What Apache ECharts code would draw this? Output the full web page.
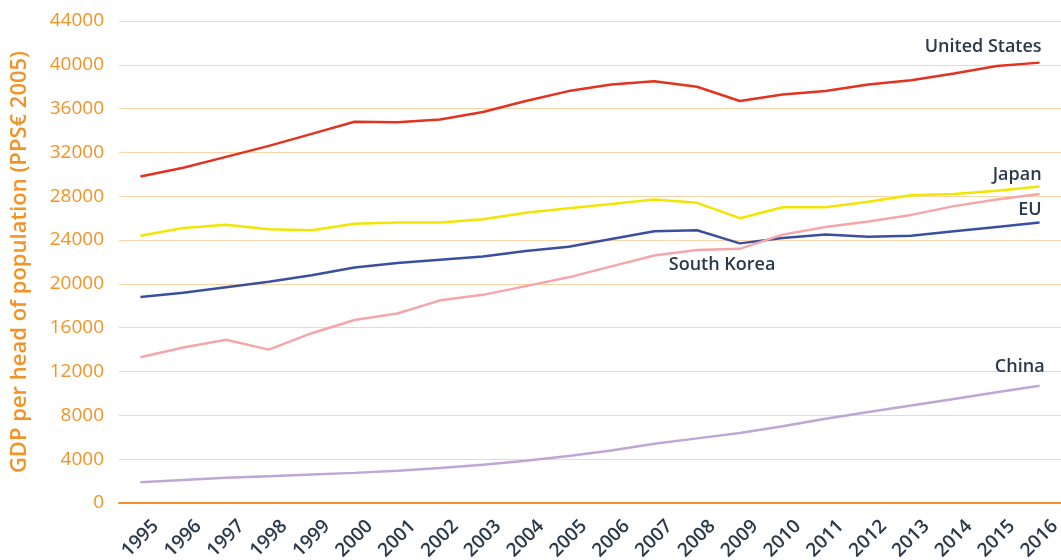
<!DOCTYPE html>
<html>
<head>
<meta charset="utf-8">
<script src="https://cdn.jsdelivr.net/npm/echarts@6/dist/echarts.min.js"></script>
<style>
  html, body { margin: 0; padding: 0; background: #fff; }
  #chart { width: 1061px; height: 560px; }
</style>
</head>
<body>
<div id="chart"></div>
<script>
// GDP per head of population (PPS€ 2005)
const years = ['1995','1996','1997','1998','1999','2000','2001','2002','2003','2004','2005',
  '2006','2007','2008','2009','2010','2011','2012','2013','2014','2015','2016']
const unitedStates = [29800,30600,31600,32600,33700,34800,34750,35000,35700,36700,37600,
  38200,38500,38000,36700,37300,37600,38200,38600,39200,39900,40200]
const japan = [24400,25100,25400,25000,24900,25500,25600,25600,25900,26500,26900,
  27300,27700,27400,26000,27000,27000,27500,28100,28200,28500,28900]
const eu = [18800,19200,19700,20200,20800,21500,21900,22200,22500,23000,23400,
  24100,24800,24900,23700,24200,24500,24300,24400,24800,25200,25600]
const southKorea = [13300,14200,14900,14000,15500,16700,17300,18500,19000,19800,20600,
  21600,22600,23100,23200,24500,25200,25700,26300,27100,27700,28200]
const china = [1900,2100,2300,2450,2600,2750,2950,3200,3500,3850,4300,
  4800,5400,5900,6400,7000,7700,8300,8900,9500,10100,10700]

const orange = '#f39325'
const dark = '#2b3a4a'
const font = 'Open Sans'

// put a name label on one point of a series
function withLabel(values, idx, name, label) {
  return values.map((v, i) => i !== idx ? v : {
    value: v,
    label: Object.assign({
      show: true,
      formatter: name,
      color: dark,
      fontFamily: font,
      fontSize: 18,
      fontWeight: 600
    }, label)
  })
}

function line(name, values, color, data) {
  return {
    name: name,
    type: 'line',
    data: data || values,
    symbol: 'circle',
    symbolSize: 0,
    showSymbol: true,
    lineStyle: { color: color, width: 2.5 },
    itemStyle: { color: color },
    emphasis: { disabled: true }
  }
}

const last = years.length - 1
const chart = echarts.init(document.getElementById('chart'))
chart.setOption({
  animation: false,
  grid: { left: 119, right: 0, top: 21, bottom: 57, outerBoundsMode: 'none' },
  xAxis: {
    type: 'category',
    data: years,
    boundaryGap: true,
    axisLine: { show: true, lineStyle: { color: orange, width: 2 } },
    axisTick: { show: false },
    axisLabel: {
      rotate: 45,
      interval: 0,
      margin: 5,
      verticalAlign: 'top',
      padding: [12, 0, 0, 0],
      color: dark,
      fontFamily: font,
      fontSize: 19,
      fontWeight: 600
    }
  },
  yAxis: {
    type: 'value',
    min: 0,
    max: 44000,
    interval: 4000,
    name: 'GDP per head of population (PPS€ 2005)',
    nameLocation: 'middle',
    nameGap: 88,
    nameMoveOverlap: false,
    nameTextStyle: { color: orange, fontFamily: font, fontSize: 22, fontWeight: 600 },
    axisLine: { show: false },
    axisTick: { show: false },
    axisLabel: {
      color: orange, fontFamily: font, fontSize: 19, margin: 15,
      formatter: v => String(v)
    },
    splitLine: { lineStyle: { color: '#fcd6a8', width: 1 } }
  },
  series: [
    line('United States', unitedStates, '#e3321e',
      withLabel(unitedStates, last, 'United States', { position: 'top', align: 'right', distance: 7, offset: [2, 0] })),
    line('Japan', japan, '#f2e600',
      withLabel(japan, last, 'Japan', { position: 'top', align: 'right', distance: 3, offset: [2, 0] })),
    line('EU', eu, '#3b4fa0',
      withLabel(eu, last, 'EU', { position: 'top', align: 'right', distance: 4, offset: [2, 0] })),
    line('South Korea', southKorea, '#f4a6a8',
      withLabel(southKorea, 13, 'South Korea', { position: 'bottom', distance: 6, offset: [25, 0] })),
    line('China', china, '#c0a6d4',
      withLabel(china, last, 'China', { position: 'top', align: 'right', distance: 10, offset: [5, 0] }))
  ]
})
</script>
</body>
</html>
